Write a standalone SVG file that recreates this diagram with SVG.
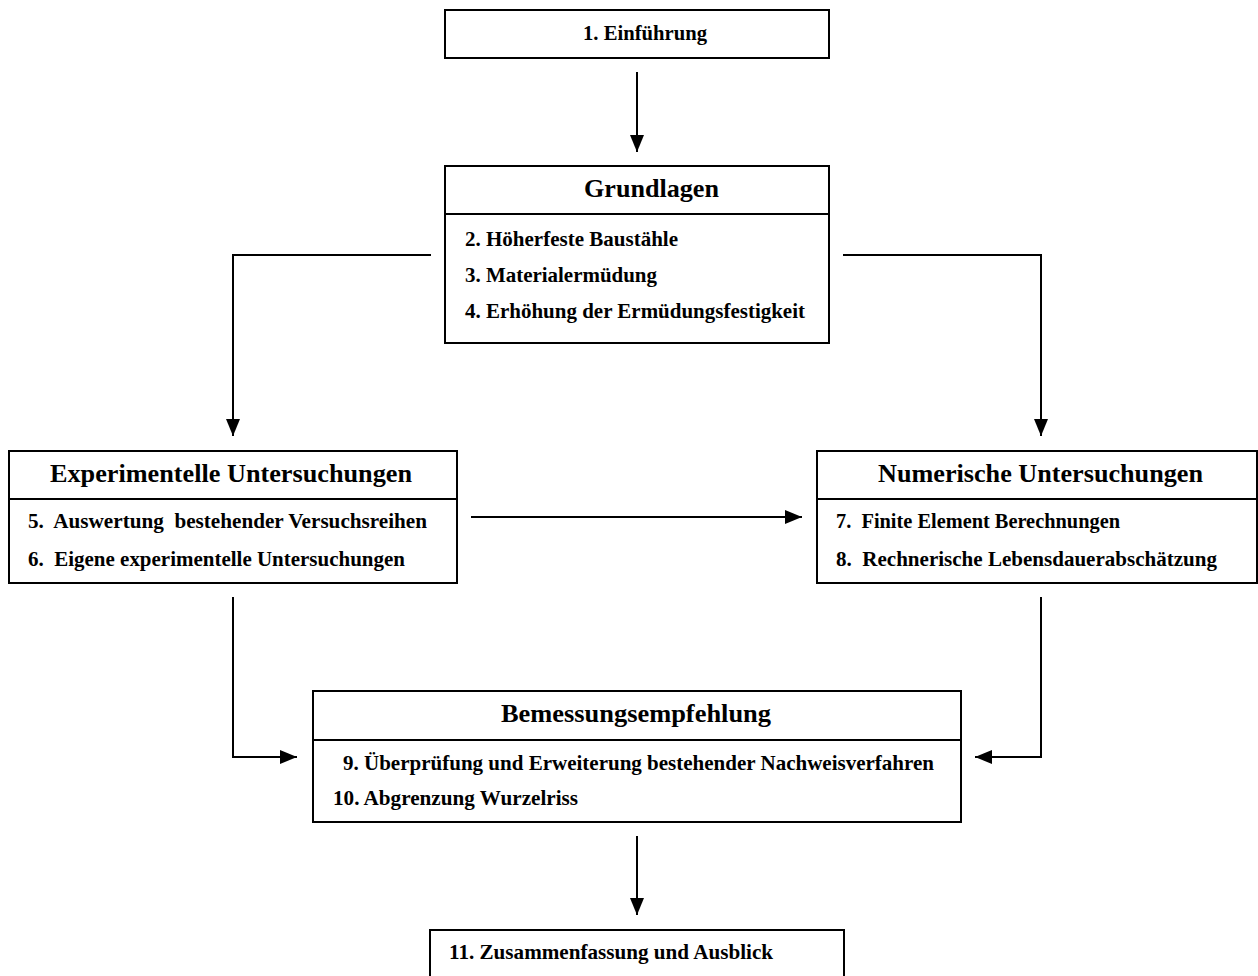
<svg xmlns="http://www.w3.org/2000/svg" width="1258" height="976" viewBox="0 0 1258 976">
  <style>
    .box { fill: #ffffff; stroke: #000000; stroke-width: 2; }
    .div { stroke: #000000; stroke-width: 2; }
    .con { fill: none; stroke: #000000; stroke-width: 2; }
    text { font-family: "Liberation Serif", "Times New Roman", serif; font-weight: bold; fill: #000000; white-space: pre; }
    .title { font-size: 26px; }
    .item { font-size: 22px; }
  </style>
  <defs>
    <marker id="arrow" viewBox="0 0 17 14" refX="17" refY="7" markerWidth="17" markerHeight="14" markerUnits="userSpaceOnUse" orient="auto">
      <path d="M0,0 L17,7 L0,14 Z" fill="#000000"/>
    </marker>
  </defs>
  <rect width="1258" height="976" fill="#ffffff"/>

  <g id="connectors">
    <line class="con" x1="637" y1="72" x2="637" y2="152" marker-end="url(#arrow)"/>
    <polyline class="con" points="431,255 233,255 233,436" marker-end="url(#arrow)"/>
    <polyline class="con" points="843,255 1041,255 1041,436" marker-end="url(#arrow)"/>
    <line class="con" x1="471" y1="517" x2="802" y2="517" marker-end="url(#arrow)"/>
    <polyline class="con" points="233,597 233,757 297,757" marker-end="url(#arrow)"/>
    <polyline class="con" points="1041,597 1041,757 975,757" marker-end="url(#arrow)"/>
    <line class="con" x1="637" y1="836" x2="637" y2="915" marker-end="url(#arrow)"/>
  </g>

  <g id="node-einfuehrung">
    <rect class="box" x="445" y="10" width="384" height="48"/>
    <text class="item" x="583" y="40" textLength="124" lengthAdjust="spacingAndGlyphs">1. Einführung</text>
  </g>

  <g id="node-grundlagen">
    <rect class="box" x="445" y="166" width="384" height="177"/>
    <line class="div" x1="445" y1="214" x2="829" y2="214"/>
    <text class="title" x="584" y="197" textLength="135" lengthAdjust="spacingAndGlyphs">Grundlagen</text>
    <text class="item" x="465" y="246" textLength="213" lengthAdjust="spacingAndGlyphs">2. Höherfeste Baustähle</text>
    <text class="item" x="465" y="282" textLength="192" lengthAdjust="spacingAndGlyphs">3. Materialermüdung</text>
    <text class="item" x="465" y="318" textLength="340" lengthAdjust="spacingAndGlyphs">4. Erhöhung der Ermüdungsfestigkeit</text>
  </g>

  <g id="node-experimentell">
    <rect class="box" x="9" y="451" width="448" height="132"/>
    <line class="div" x1="9" y1="499" x2="457" y2="499"/>
    <text class="title" x="50" y="482" textLength="362" lengthAdjust="spacingAndGlyphs">Experimentelle Untersuchungen</text>
    <text class="item" x="28" y="528" textLength="399" lengthAdjust="spacingAndGlyphs">5.  Auswertung  bestehender Versuchsreihen</text>
    <text class="item" x="28" y="566" textLength="377" lengthAdjust="spacingAndGlyphs">6.  Eigene experimentelle Untersuchungen</text>
  </g>

  <g id="node-numerisch">
    <rect class="box" x="817" y="451" width="440" height="132"/>
    <line class="div" x1="817" y1="499" x2="1257" y2="499"/>
    <text class="title" x="878" y="482" textLength="325" lengthAdjust="spacingAndGlyphs">Numerische Untersuchungen</text>
    <text class="item" x="836" y="528" textLength="284" lengthAdjust="spacingAndGlyphs">7.  Finite Element Berechnungen</text>
    <text class="item" x="836" y="566" textLength="381" lengthAdjust="spacingAndGlyphs">8.  Rechnerische Lebensdauerabschätzung</text>
  </g>

  <g id="node-bemessung">
    <rect class="box" x="313" y="691" width="648" height="131"/>
    <line class="div" x1="313" y1="740" x2="961" y2="740"/>
    <text class="title" x="501" y="722" textLength="270" lengthAdjust="spacingAndGlyphs">Bemessungsempfehlung</text>
    <text class="item" x="343" y="770" textLength="591" lengthAdjust="spacingAndGlyphs">9. Überprüfung und Erweiterung bestehender Nachweisverfahren</text>
    <text class="item" x="333" y="805" textLength="245" lengthAdjust="spacingAndGlyphs">10. Abgrenzung Wurzelriss</text>
  </g>

  <g id="node-zusammenfassung">
    <rect class="box" x="430" y="930" width="414" height="60"/>
    <text class="item" x="449" y="959" textLength="324" lengthAdjust="spacingAndGlyphs">11. Zusammenfassung und Ausblick</text>
  </g>
</svg>
